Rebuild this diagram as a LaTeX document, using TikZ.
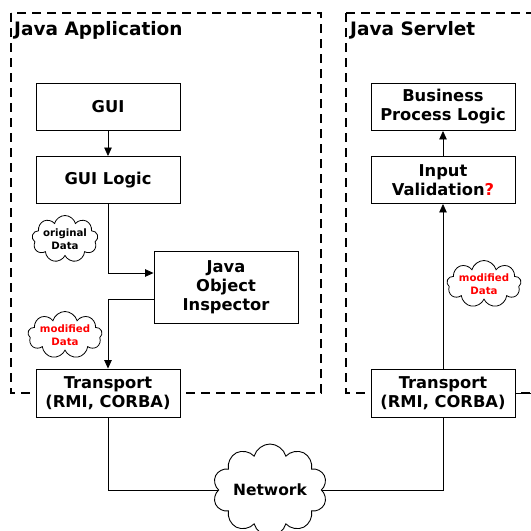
\documentclass[tikz,border=0pt]{standalone}
\usepackage{fontspec}
\setmainfont{DejaVu Sans}
\usetikzlibrary{shapes.symbols,arrows.meta}
\tikzset{
  box/.style={draw, line width=0.9pt, fill=white, minimum width=144pt, minimum height=47pt, align=center, font=\bfseries\fontsize{16.3}{19}\selectfont, inner sep=1pt},
  region/.style={draw, line width=1.1pt, dash pattern=on 9pt off 6pt},
  datacloud/.style={cloud, cloud puffs=9, cloud ignores aspect, draw, line width=0.8pt, fill=white, minimum width=60pt, minimum height=47pt, align=center, font=\bfseries\fontsize{10.2}{12.5}\selectfont, inner sep=0pt},
  arr/.style={-{Triangle[length=8.5pt,width=7.5pt]}, line width=0.8pt},
  ln/.style={line width=0.8pt},
  title/.style={anchor=base west, font=\bfseries\fontsize{18.5}{22}\selectfont, inner sep=0pt}
}
\begin{document}
\begin{tikzpicture}[x=1pt,y=-1pt]
\useasboundingbox (0,0) rectangle (531,531);
% regions
\draw[region] (11,13) rectangle (321,393);
\draw[region] (346,13) -- (540,13) (346,13) -- (346,393) -- (540,393);
\node[title] (tapp) at (14,35) {Java Application};
\node[title] (tsrv) at (350,35) {Java Servlet};
% boxes left
\node[box] (gui) at (108,107) {GUI};
\node[box] (guil) at (108,180) {GUI Logic};
\node[box, minimum height=72pt] (joi) at (226,287) {Java\\Object\\Inspector};
\node[box, minimum height=48pt] (tl) at (108,393) {Transport\\(RMI, CORBA)};
% boxes right
\node[box] (bpl) at (443,107) {Business\\Process Logic};
\node[box] (iv) at (443,180) {Input\\Validation{\color{red}?}};
\node[box, minimum height=48pt] (tr) at (443,393) {Transport\\(RMI, CORBA)};
% clouds
\node[datacloud] (od) at (65,239) {original\\Data};
\node[datacloud, text=red] (md1) at (65,335) {modified\\Data};
\node[datacloud, text=red] (md2) at (484,284) {modified\\Data};
\node[cloud, cloud puffs=10, cloud ignores aspect, draw, line width=0.9pt, fill=white, minimum width=112pt, minimum height=92pt, font=\bfseries\fontsize{15.5}{18}\selectfont] (net) at (270,490) {Network};
% connectors
\draw[arr] (gui) -- (guil);
\coordinate (c1) at (108,273);
\draw[arr] (guil.south) -- (c1) -- (joi.west |- c1);
\coordinate (c2) at (108,299);
\draw[arr] (joi.west |- c2) -- (c2) -- (tl.north);
\draw[arr] (tr.north) -- (iv.south);
\draw[arr] (iv) -- (bpl);
\draw[ln] (tl.south) |- (net.west);
\draw[ln] (tr.south) |- (net.east);
\draw[ln] (tr.east) -- (531,393);
\end{tikzpicture}
\end{document}
